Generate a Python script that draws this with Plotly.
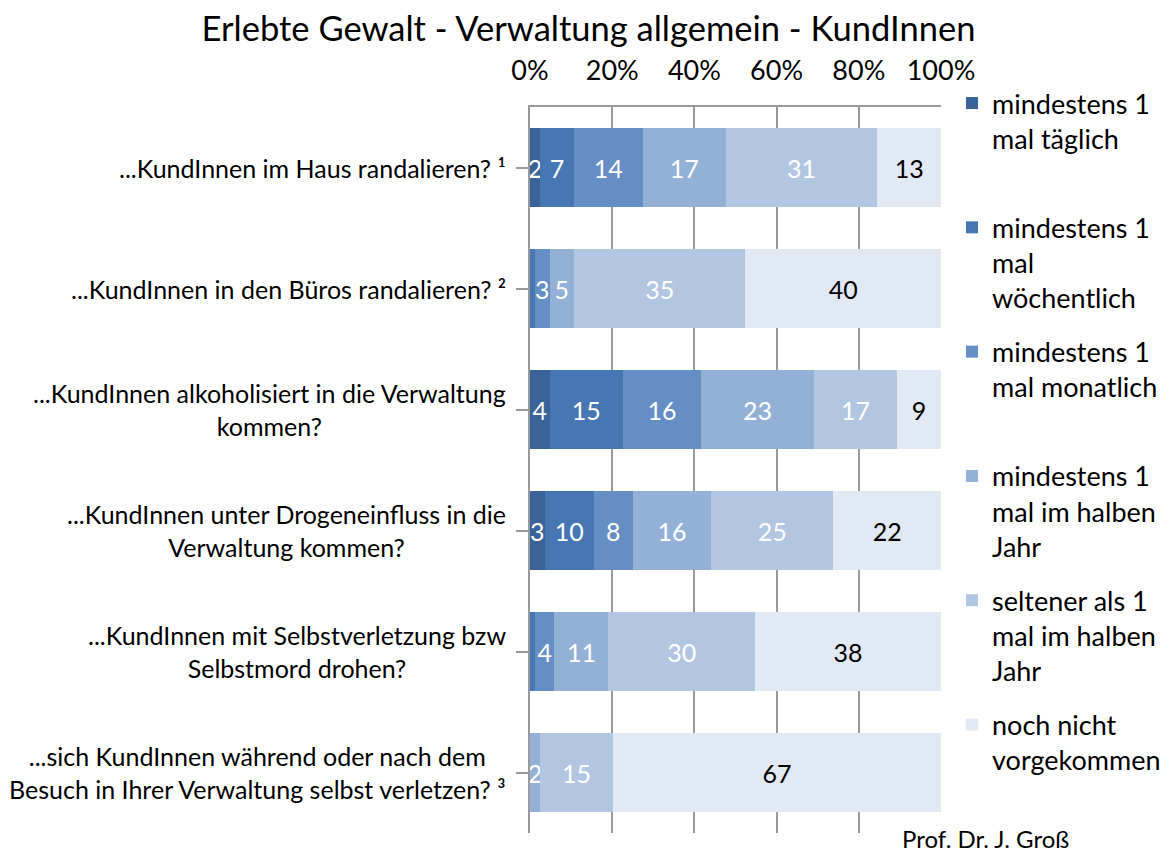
import plotly.graph_objects as go

categories = [
    "...KundInnen im Haus randalieren? ¹",
    "...KundInnen in den Büros randalieren? ²",
    "...KundInnen alkoholisiert in die Verwaltung<br>kommen?",
    "...KundInnen unter Drogeneinfluss in die<br>Verwaltung kommen?",
    "...KundInnen mit Selbstverletzung bzw<br>Selbstmord drohen?",
    "...sich KundInnen während oder nach dem<br>Besuch in Ihrer Verwaltung selbst verletzen? ³",
]

series_names = [
    "mindestens 1<br>mal täglich<br> ",
    "mindestens 1<br>mal<br>wöchentlich",
    "mindestens 1<br>mal monatlich<br> ",
    "mindestens 1<br>mal im halben<br>Jahr",
    "seltener als 1<br>mal im halben<br>Jahr",
    "noch nicht<br>vorgekommen<br> ",
]

taeglich = [2, 0, 4, 3, 0, 0]
woechentlich = [7, 1, 15, 10, 1, 0]
monatlich = [14, 3, 16, 8, 4, 0]
halbjahr = [17, 5, 23, 16, 11, 2]
seltener = [31, 35, 17, 25, 30, 15]
nie = [13, 40, 9, 22, 38, 67]

series_values = [taeglich, woechentlich, monatlich, halbjahr, seltener, nie]
colors = ["#3A6399", "#4677B4", "#658FC4", "#93B1D7", "#B2C6E2", "#E1E9F5"]
text_colors = ["white", "white", "white", "white", "white", "black"]

FONT = "Lato"
ids = list(range(len(categories)))

W, H = 1161, 845
L, R, T, B = 522, 228, 99, 20
PH = H - T - B

fig = go.Figure()
for name, vals, col, tcol in zip(series_names, series_values, colors, text_colors):
    labels = [str(v) if v >= 2 else "" for v in vals]
    fig.add_trace(go.Bar(
        y=ids, x=vals, name=name, orientation="h",
        marker=dict(color=col, line=dict(width=0)),
        text=labels, textposition="inside", insidetextanchor="middle",
        textangle=0, constraintext="none",
        textfont=dict(family=FONT, size=25, color=tcol),
        legendgroup=name,
    ))

annotations = []
for i, cat in enumerate(categories):
    annotations.append(dict(
        x=0, y=i, xref="paper", yref="y", text=cat, showarrow=False,
        xanchor="right", yanchor="middle", align="center", xshift=-22,
        font=dict(family=FONT, size=25, color="black"),
    ))
annotations.append(dict(
    x=0.900, y=-0.007, xref="paper", yref="paper", text="Prof. Dr. J. Groß",
    showarrow=False, xanchor="left", yanchor="middle",
    font=dict(family=FONT, size=24, color="black"),
))

fig.update_layout(
    width=W, height=H,
    barmode="stack", barnorm="percent", bargap=0.355,
    plot_bgcolor="white", paper_bgcolor="white",
    margin=dict(l=L, r=R, t=T, b=B, autoexpand=False),
    title=dict(text="Erlebte Gewalt - Verwaltung allgemein - KundInnen",
               x=0.5, xanchor="center", y=1 - 21 / H, yanchor="middle", yref="container",
               font=dict(family=FONT, size=34.5, color="black")),
    xaxis=dict(side="top", range=[0, 100], dtick=20, ticksuffix="%",
               showline=True, linecolor="#9a9a9a", linewidth=2,
               showgrid=True, gridcolor="#9a9a9a", gridwidth=2,
               zeroline=False, ticks="", ticklabelstandoff=14,
               tickfont=dict(family=FONT, size=27, color="black"),
               fixedrange=True),
    yaxis=dict(range=[5.5, -0.5], tickmode="array", tickvals=ids,
               showticklabels=False, showline=True, linecolor="#9a9a9a",
               linewidth=2, ticks="outside", ticklen=12, tickwidth=2,
               tickcolor="#9a9a9a", tickson="boundaries", showgrid=False,
               zeroline=False, fixedrange=True),
    legend=dict(x=1.0268, xanchor="left", yref="paper", y=1 + (T - 71) / PH, yanchor="top",
                valign="top", tracegroupgap=16, traceorder="grouped",
                maxheight=800,
                font=dict(family=FONT, size=27, color="black"),
                bgcolor="rgba(0,0,0,0)"),
    uniformtext=dict(mode="show", minsize=25),
    annotations=annotations,
    showlegend=True,
)

fig.write_html("out.html")
